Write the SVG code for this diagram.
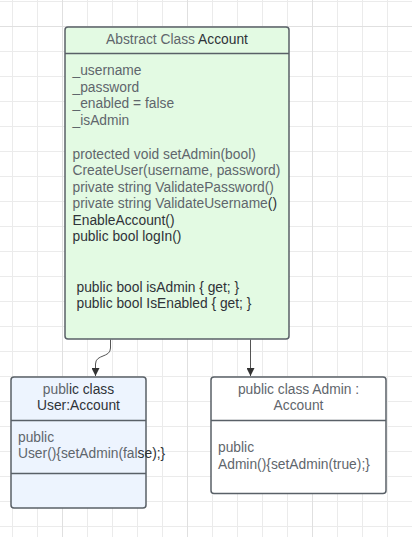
<svg xmlns="http://www.w3.org/2000/svg" width="412" height="537" viewBox="0 0 412 537">
  <defs>
    <pattern id="grid" x="12" y="1" width="25" height="25" patternUnits="userSpaceOnUse">
      <path d="M0.5 0V25M0 0.5H25" fill="none" stroke="#ebebeb" stroke-width="1"/>
    </pattern>
    <marker id="arrow" viewBox="0 0 10 10" refX="10" refY="5" markerWidth="8" markerHeight="8" markerUnits="userSpaceOnUse" orient="auto">
      <path d="M0 0L10 5L0 10Z" fill="#333"/>
    </marker>
    <style>
      text { font-family: "Liberation Sans", Arial, sans-serif; font-size: 13.8px; }
      .g { fill: #5f666c; }
      .d { fill: #2f3338; }
      .c { text-anchor: middle; }
      .box { stroke: #596067; stroke-width: 1.5; }
      .line { stroke: #596067; stroke-width: 1.5; }
      .conn { fill: none; stroke: #555; stroke-width: 1; }
    </style>
  </defs>

  <!-- background grid -->
  <rect width="412" height="537" fill="#ffffff"/>
  <rect width="412" height="537" fill="url(#grid)"/>
  <g stroke="#e0e0e0" stroke-width="1">
    <path d="M62.5 0V537M187.5 0V537M312.5 0V537"/>
    <path d="M0 26.5H412"/>
  </g>

  <!-- connectors -->
  <g id="connectors">
    <path class="conn" d="M110.5 339.5V348C110.5 358 95.5 354 95.5 364V376" marker-end="url(#arrow)"/>
    <path class="conn" d="M250.5 339.5V376" marker-end="url(#arrow)"/>
  </g>

  <!-- abstract base class -->
  <g id="account">
    <rect class="box" x="65" y="27" width="224" height="312" rx="3" fill="#e3fae3"/>
    <line class="line" x1="65" y1="53.5" x2="289" y2="53.5"/>
    <text class="c" x="177" y="43.5"><tspan class="g">Abstract Class </tspan><tspan class="d">Account</tspan></text>
    <text class="g" x="72.5" y="75">_username</text>
    <text class="g" x="72.5" y="91.5">_password</text>
    <text class="g" x="72.5" y="108">_enabled = false</text>
    <text class="g" x="72.5" y="124.5">_isAdmin</text>
    <text class="g" x="72.5" y="158.5">protected void setAdmin(bool)</text>
    <text class="g" x="72.5" y="175">CreateUser(username, password)</text>
    <text class="g" x="72.5" y="191.5">private string ValidatePassword()</text>
    <text x="72.5" y="208"><tspan class="g">private string ValidateUsername</tspan><tspan class="d">()</tspan></text>
    <text class="d" x="72.5" y="224.5">EnableAccount()</text>
    <text class="d" x="72.5" y="241">public bool logIn()</text>
    <text class="d" x="76.5" y="291.5">public bool isAdmin { get; }</text>
    <text class="d" x="76.5" y="308">public bool IsEnabled { get; }</text>
  </g>

  <!-- user subclass -->
  <g id="user">
    <rect class="box" x="11" y="377" width="135" height="131" rx="3" fill="#edf4fe"/>
    <line class="line" x1="11" y1="420.5" x2="146" y2="420.5"/>
    <line class="line" x1="11" y1="473.5" x2="146" y2="473.5"/>
    <text class="c" x="78.5" y="394"><tspan class="g">publ</tspan><tspan class="d">ic class</tspan></text>
    <text class="c d" x="78.5" y="410">User:Account</text>
    <text class="g" x="18" y="441.5">public</text>
    <text x="18" y="458"><tspan class="g">User(){setAdmin(fal</tspan><tspan class="d">se);}</tspan></text>
  </g>

  <!-- admin subclass -->
  <g id="admin">
    <rect class="box" x="211" y="377" width="175" height="116.5" rx="3" fill="#ffffff"/>
    <line class="line" x1="211" y1="420.5" x2="386" y2="420.5"/>
    <text class="c g" x="298.5" y="394">public class Admin :</text>
    <text class="c g" x="298.5" y="410">Account</text>
    <text class="g" x="218" y="452">public</text>
    <text class="g" x="218" y="468.5">Admin(){setAdmin(true);}</text>
  </g>
</svg>
